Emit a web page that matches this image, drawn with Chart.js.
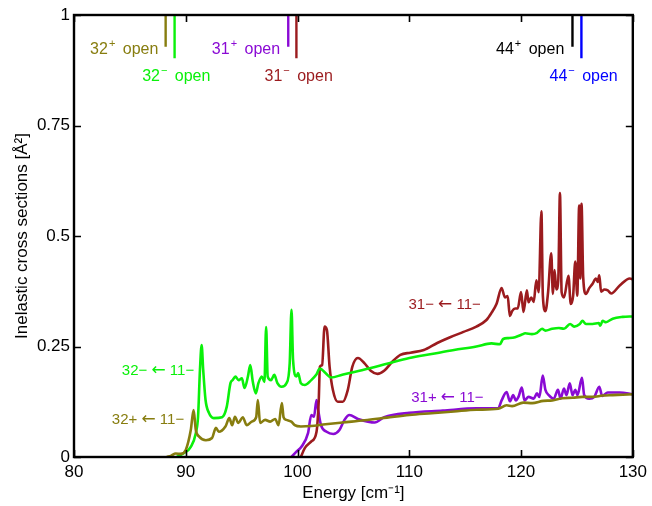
<!DOCTYPE html>
<html>
<head>
<meta charset="utf-8">
<script src="https://cdn.jsdelivr.net/npm/chart.js@4.4.0/dist/chart.umd.min.js"></script>
<style>
  html, body { margin: 0; padding: 0; background: #ffffff; }
  #wrap { width: 652px; height: 506px; }
</style>
</head>
<body>
<div id="wrap"><canvas id="c" width="652" height="506"></canvas></div>
<script>
// ---------------- data ----------------
const energy32p = [88.3, 88.7, 89.1, 89.55, 90.0, 90.45, 90.7, 90.9, 91.2, 91.8, 92.35, 92.7, 92.95, 93.55, 93.9, 94.15, 94.4, 94.7, 95.1, 95.45, 95.9, 96.3, 96.45, 96.65, 97.1, 97.55, 98.0, 98.3, 98.6, 98.75, 99.0, 99.45, 99.75, 100.3, 101.2, 102.5, 104, 106, 108, 110, 112, 114, 116, 117.95, 118.7, 119.2, 120.2, 121, 122, 122.8, 123.7, 124.6, 125.5, 126.4, 127.3, 128.2, 129.1, 130];
const sigma32p  = [0, 0.003, 0.008, 0.007, 0.016, 0.061, 0.106, 0.061, 0.046, 0.038, 0.043, 0.066, 0.057, 0.069, 0.088, 0.072, 0.091, 0.077, 0.09, 0.072, 0.08, 0.09, 0.129, 0.077, 0.084, 0.08, 0.086, 0.072, 0.122, 0.09, 0.084, 0.08, 0.072, 0.069, 0.07, 0.074, 0.078, 0.083, 0.089, 0.095, 0.099, 0.103, 0.107, 0.109, 0.117, 0.115, 0.123, 0.122, 0.127, 0.128, 0.133, 0.134, 0.136, 0.136, 0.139, 0.14, 0.141, 0.142];

const energy32m = [89.2, 89.85, 90.45, 90.9, 91.1, 91.27, 91.42, 91.56, 91.77, 92.07, 92.5, 93.25, 93.67, 94.0, 94.2, 94.44, 94.73, 95.02, 95.26, 95.56, 95.77, 96.0, 96.27, 96.5, 96.8, 97.04, 97.19, 97.33, 97.63, 97.92, 98.2, 98.57, 99.01, 99.3, 99.46, 99.6, 99.9, 100.05, 100.3, 100.65, 101.23, 101.67, 102.0, 102.5, 103.0, 104, 106, 108, 110, 112, 114, 116, 117.35, 118.1, 118.4, 118.87, 119.47, 120.07, 120.37, 120.97, 121.43, 121.88, 122.18, 122.78, 123.38, 123.84, 124.39, 124.75, 125.26, 125.5, 125.8, 126.4, 126.96, 127.08, 127.3, 127.6, 128.2, 129.1, 130];
const sigma32m  = [0, 0.009, 0.023, 0.054, 0.091, 0.197, 0.253, 0.197, 0.129, 0.1, 0.088, 0.09, 0.114, 0.167, 0.174, 0.182, 0.174, 0.178, 0.156, 0.182, 0.208, 0.17, 0.144, 0.167, 0.182, 0.17, 0.294, 0.182, 0.174, 0.186, 0.167, 0.159, 0.167, 0.212, 0.333, 0.22, 0.182, 0.19, 0.167, 0.163, 0.174, 0.186, 0.2, 0.19, 0.18, 0.186, 0.198, 0.211, 0.224, 0.233, 0.242, 0.25, 0.257, 0.255, 0.267, 0.269, 0.271, 0.277, 0.28, 0.278, 0.281, 0.29, 0.286, 0.29, 0.292, 0.29, 0.301, 0.295, 0.301, 0.308, 0.301, 0.301, 0.303, 0.297, 0.308, 0.305, 0.313, 0.317, 0.318];

const energy31m = [100.3, 100.65, 101.23, 101.7, 101.9, 102.0, 102.2, 102.42, 102.63, 102.87, 103.16, 103.6, 104.05, 104.5, 104.9, 105.4, 106.0, 106.55, 107.15, 107.75, 108.5, 109.2, 110.1, 111.3, 112.5, 113.65, 114.85, 116.0, 116.9, 117.35, 117.8, 118.26, 118.56, 118.8, 119.0, 119.2, 119.47, 119.7, 120.0, 120.22, 120.52, 120.67, 120.91, 121.13, 121.37, 121.58, 121.82, 121.95, 122.18, 122.42, 122.7, 122.85, 123.0, 123.15, 123.33, 123.48, 123.63, 123.84, 124.24, 124.45, 124.66, 124.85, 125.03, 125.2, 125.3, 125.41, 125.56, 125.8, 126.1, 126.4, 126.7, 126.86, 127.0, 127.16, 127.46, 127.76, 128.06, 128.83, 129.73, 130];
const sigma31m  = [0, 0.02, 0.035, 0.057, 0.129, 0.204, 0.208, 0.295, 0.287, 0.204, 0.152, 0.125, 0.125, 0.152, 0.204, 0.224, 0.212, 0.195, 0.188, 0.195, 0.216, 0.231, 0.236, 0.242, 0.258, 0.271, 0.283, 0.295, 0.31, 0.326, 0.346, 0.382, 0.361, 0.364, 0.319, 0.33, 0.336, 0.336, 0.373, 0.328, 0.377, 0.35, 0.361, 0.351, 0.4, 0.373, 0.556, 0.365, 0.33, 0.373, 0.461, 0.369, 0.423, 0.379, 0.4, 0.597, 0.373, 0.361, 0.41, 0.346, 0.365, 0.442, 0.365, 0.569, 0.404, 0.573, 0.407, 0.369, 0.382, 0.392, 0.404, 0.396, 0.411, 0.374, 0.379, 0.377, 0.37, 0.388, 0.404, 0.402];

const energy31p = [99.46, 99.9, 100.35, 100.94, 101.23, 101.47, 101.7, 101.85, 102.1, 102.6, 103.2, 103.75, 104.2, 104.64, 105.4, 106.3, 106.9, 107.75, 110, 113, 116, 117.95, 118.26, 118.71, 119.0, 119.3, 119.53, 119.77, 120.07, 120.31, 120.67, 121.13, 121.43, 121.64, 121.94, 122.18, 122.48, 122.93, 123.3, 123.54, 123.84, 124.06, 124.36, 124.6, 124.85, 125.05, 125.45, 125.65, 126.1, 126.55, 127.0, 127.26, 127.76, 128.83, 130];
const sigma31p  = [0, 0.012, 0.023, 0.054, 0.095, 0.091, 0.129, 0.106, 0.072, 0.057, 0.052, 0.061, 0.084, 0.095, 0.086, 0.08, 0.078, 0.09, 0.1, 0.105, 0.11, 0.11, 0.128, 0.147, 0.126, 0.14, 0.128, 0.136, 0.157, 0.128, 0.136, 0.132, 0.144, 0.136, 0.184, 0.152, 0.14, 0.132, 0.152, 0.132, 0.155, 0.14, 0.167, 0.14, 0.152, 0.14, 0.179, 0.14, 0.132, 0.136, 0.159, 0.138, 0.146, 0.146, 0.142];

// threshold ("open") markers
const thresholdNames    = ['32', '32', '31', '31', '44', '44'];
const thresholdParity   = ['+', '−', '+', '−', '+', '−'];
const thresholdEnergies = [88.2, 89.0, 99.17, 99.9, 124.6, 125.4];
const thresholdTop      = [1, 1, 1, 1, 1, 1];
const thresholdBottom   = [0.928, 0.902, 0.928, 0.902, 0.928, 0.902];

// axis ticks
const xTicks = [80, 90, 100, 110, 120, 130];
const xTickLabels = ['80', '90', '100', '110', '120', '130'];
const yTicks = [0, 0.25, 0.5, 0.75, 1];
const yTickLabels = ['0', '0.25', '0.5', '0.75', '1'];

// series captions (left part, right part around the arrow)
const seriesFrom = ['32+', '32−', '31−', '31+'];
const seriesTo   = ['11−', '11−', '11−', '11−'];

// ---------------- styles / layout ----------------
const FONT = '"Liberation Sans", Arial, Helvetica, sans-serif';
const cOlive = '#877D0F', cGreen = '#0AF00A', cRed = '#9B1B1E', cPurple = '#8A0AD4', cBlue = '#0000FF', cBlack = '#000000';
const seriesColors = [cOlive, cGreen, cRed, cPurple];
const thresholdColors = [cOlive, cGreen, cPurple, cRed, cBlack, cBlue];
// caption anchors (data coords) and alignment
const seriesLabelPos = [[89.86, 0.088, 'right'], [90.75, 0.197, 'right'], [116.4, 0.348, 'right'], [116.65, 0.136, 'right']];
const thresholdLabelPos = [[87.55, 0.925, 'right'], [89.15, 0.864, 'center'], [98.44, 0.925, 'right'], [100.1, 0.864, 'center'], [123.87, 0.925, 'right'], [125.6, 0.864, 'center']];

function pts(xs, ys) { return xs.map((x, i) => ({ x: x, y: ys[i] })); }

const curveSets = [
  [energy32p, sigma32p], [energy32m, sigma32m], [energy31m, sigma31m], [energy31p, sigma31p]
].map((s, i) => ({
  label: seriesFrom[i] + ' ← ' + seriesTo[i],
  data: pts(s[0], s[1]),
  borderColor: seriesColors[i],
  borderWidth: 2.6,
  pointRadius: 0,
  cubicInterpolationMode: 'monotone',
  fill: false
}));

const thresholdSets = thresholdEnergies.map((e, i) => ({
  label: thresholdNames[i] + thresholdParity[i] + ' open',
  data: [{ x: e, y: thresholdTop[i] }, { x: e, y: thresholdBottom[i] }],
  borderColor: thresholdColors[i],
  borderWidth: 2.4,
  pointRadius: 0,
  fill: false
}));

// draws a run of [text, font, dx-before, dy] pieces, aligned around x
function drawRun(ctx, pieces, x, y, align, color) {
  ctx.save();
  ctx.fillStyle = color;
  ctx.textBaseline = 'alphabetic';
  ctx.textAlign = 'left';
  let total = 0;
  const widths = pieces.map(p => { ctx.font = p[1]; const w = ctx.measureText(p[0]).width; total += w + p[2]; return w; });
  let cx = align === 'right' ? x - total : (align === 'center' ? x - total / 2 : x);
  pieces.forEach((p, i) => {
    cx += p[2];
    ctx.font = p[1];
    ctx.fillText(p[0], cx, y + p[3]);
    cx += widths[i];
  });
  ctx.restore();
}

const framePlugin = {
  id: 'frame',
  afterDatasetsDraw(chart) {
    const ctx = chart.ctx, a = chart.chartArea, xs = chart.scales.x, ys = chart.scales.y;
    ctx.save();
    ctx.strokeStyle = '#000';
    ctx.lineWidth = 1.6;
    const tl = 7;
    xTicks.forEach(v => {
      const p = Math.round(xs.getPixelForValue(v)) + 0.5;
      ctx.beginPath();
      ctx.moveTo(p, a.bottom); ctx.lineTo(p, a.bottom - tl);
      ctx.moveTo(p, a.top); ctx.lineTo(p, a.top + tl);
      ctx.stroke();
    });
    yTicks.forEach(v => {
      const p = Math.round(ys.getPixelForValue(v)) + 0.5;
      ctx.beginPath();
      ctx.moveTo(a.left, p); ctx.lineTo(a.left + tl, p);
      ctx.moveTo(a.right, p); ctx.lineTo(a.right - tl, p);
      ctx.stroke();
    });
    ctx.lineWidth = 2.4;
    ctx.strokeRect(a.left, a.top, a.right - a.left, a.bottom - a.top);
    ctx.restore();

    const big = '16px ' + FONT, small = '11px ' + FONT;
    // threshold captions  e.g. 32⁺ open
    thresholdLabelPos.forEach((p, i) => {
      drawRun(ctx, [
        [thresholdNames[i], big, 0, 6],
        [thresholdParity[i], small, 1, -1],
        [' open', big, 3, 6]
      ], xs.getPixelForValue(p[0]), ys.getPixelForValue(p[1]), p[2], thresholdColors[i]);
    });
    // series captions  e.g. 32− ← 11−
    const lab = '15px ' + FONT, arr = '17px "DejaVu Sans", sans-serif';
    seriesLabelPos.forEach((p, i) => {
      drawRun(ctx, [
        [seriesFrom[i] + ' ', lab, 0, 5.5],
        ['←', arr, 0, 5.5],
        [' ' + seriesTo[i], lab, 0, 5.5]
      ], xs.getPixelForValue(p[0]), ys.getPixelForValue(p[1]), p[2], seriesColors[i]);
    });
  }
};

new Chart(document.getElementById('c'), {
  type: 'line',
  data: { datasets: curveSets.concat(thresholdSets) },
  options: {
    responsive: false,
    animation: false,
    devicePixelRatio: 1,
    layout: { padding: { left: 0, right: 15, top: 15, bottom: 0 } },
    plugins: { legend: { display: false }, tooltip: { enabled: false } },
    scales: {
      x: {
        type: 'linear', min: 80, max: 130,
        afterBuildTicks: s => { s.ticks = xTicks.map(v => ({ value: v })); },
        afterFit: s => { s.height = 49; },
        grid: { display: false, drawTicks: false },
        border: { display: false },
        ticks: { color: '#000', font: { family: FONT, size: 17 }, padding: 5, maxRotation: 0, autoSkip: false,
                 callback: (v, i) => xTickLabels[i] },
        title: { display: true, text: 'Energy [cm⁻¹]', color: '#000', font: { family: FONT, size: 17 }, padding: { top: 0, bottom: 2 } }
      },
      y: {
        type: 'linear', min: 0, max: 1,
        afterBuildTicks: s => { s.ticks = yTicks.map(v => ({ value: v })); },
        afterFit: s => { s.width = 74; },
        grid: { display: false, drawTicks: false },
        border: { display: false },
        ticks: { color: '#000', font: { family: FONT, size: 17 }, padding: 4, autoSkip: false,
                 callback: (v, i) => yTickLabels[i] },
        title: { display: true, text: 'Inelastic cross sections [Å²]', color: '#000', font: { family: FONT, size: 17 }, padding: { top: 12, bottom: 0 } }
      }
    }
  },
  plugins: [framePlugin]
});
</script>
</body>
</html>
